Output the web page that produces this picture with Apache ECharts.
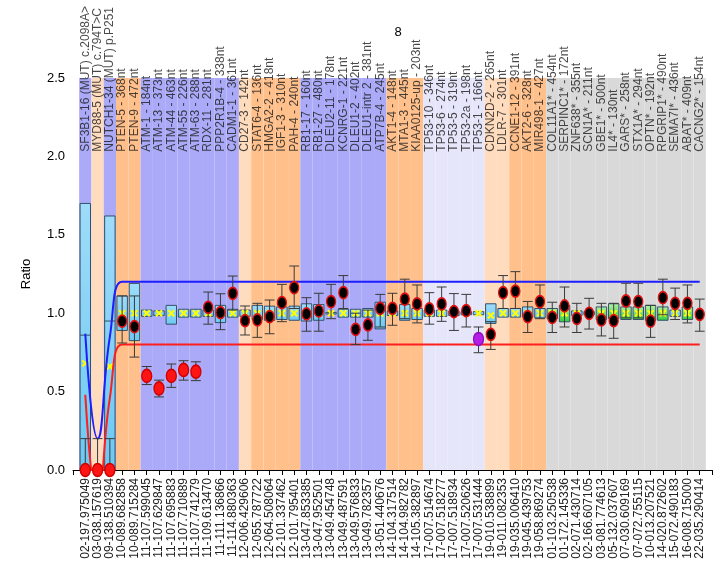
<!DOCTYPE html>
<html><head><meta charset="utf-8">
<script src="https://cdn.jsdelivr.net/npm/echarts@6/dist/echarts.min.js"></script>
<style>html,body{margin:0;padding:0;background:#fff}#c{width:726px;height:568px}</style>
</head><body><div id="c"></div>
<script>
const categories = ['02-197.975049','03-038.157619','09-138.510394','10-089.682858','10-089.715284','11-107.599045','11-107.629847','11-107.695883','11-107.710889','11-107.741279','11-109.613470','11-111.136866','11-114.880363','12-006.429606','12-055.787722','12-064.508064','12-101.337462','12-101.795401','13-047.853385','13-047.952501','13-049.454748','13-049.487591','13-049.576833','13-049.782357','13-051.440676','14-104.317514','14-104.982782','14-105.382897','17-007.514674','17-007.518277','17-007.518934','17-007.520626','17-007.531444','19-010.538899','19-011.082353','19-035.006410','19-045.439753','19-058.869274','01-103.250538','01-172.145336','02-071.430714','02-166.607105','03-081.774613','05-132.037607','07-030.609169','07-072.755115','10-013.207521','14-020.872602','15-072.490183','16-008.715000','22-035.290414'];
const geneLabels = ['SF3B1-16 (MUT) c.2098A>','MYD88-5 (MUT) c.794T>C','NUTCH1-34 (MUT) p.P251','PTEN-5 - 368nt','PTEN-9 - 472nt','ATM-1 - 184nt','ATM-13 - 373nt','ATM-44 - 463nt','ATM-55 - 226nt','ATM-63 - 288nt','RDX-11 - 281nt','PPP2R1B-4 - 338nt','CADM1-1 - 361nt','CD27-3 - 142nt','STAT6-4 - 136nt','HMGA2-2 - 418nt','IGF1-3 - 310nt','PAH-4 - 240nt','RB1-17 - 160nt','RB1-27 - 480nt','DLEU2-11 - 178nt','KCNRG-1 - 221nt','DLEU1-2 - 402nt','DLEU1-intr 2 - 381nt','ATP7B-4 - 245nt','AKT1-4 - 148nt','MTA1-3 - 445nt','KIAA0125-up - 203nt','TP53-10 - 346nt','TP53-6 - 274nt','TP53-5 - 319nt','TP53-2a - 198nt','TP53-1 - 166nt','CDKN2D-2 - 265nt','LDLR-7 - 301nt','CCNE1-12 - 391nt','AKT2-6 - 328nt','MIR498-1 - 427nt','COL11A1* - 454nt','SERPINC1* - 172nt','ZNF638* - 355nt','SCN1A* - 211nt','GBE1* - 500nt','IL4* - 130nt','GARS* - 258nt','STX1A* - 294nt','OPTN* - 192nt','RPGRIP1* - 490nt','SEMA7I* - 436nt','ABAT* - 409nt','CACNG2* - 154nt'];
const bandKind = ['B','P','B','O','O','B','B','B','B','B','B','B','B','P','O','O','O','O','B','B','B','B','B','B','B','O','O','O','L','L','L','L','L','P','P','O','O','O','G','G','G','G','G','G','G','G','G','G','G','G','G'];
const boxLow  = [0,null,0,0.89,0.825,0.98,0.985,0.93,0.975,0.975,0.98,0.94,0.975,0.98,0.96,0.955,0.96,0.955,0.95,0.955,0.995,0.975,0.975,0.975,0.90,0.985,0.955,0.96,0.98,0.98,0.985,0.99,0.99,0.935,0.975,0.975,0.975,0.97,0.965,0.945,0.985,0.99,0.96,0.965,0.96,0.96,0.955,0.955,0.98,0.96,null];
const boxHigh = [1.70,null,1.62,1.11,1.19,1.02,1.015,1.05,1.025,1.025,1.02,1.05,1.025,1.02,1.05,1.045,1.04,1.045,1.06,1.055,1.005,1.025,1.025,1.03,1.07,1.015,1.055,1.03,1.02,1.02,1.015,1.01,1.01,1.06,1.03,1.03,1.04,1.03,1.03,1.05,1.015,1.01,1.04,1.06,1.04,1.04,1.05,1.04,1.02,1.04,null];
const boxMean = [0.68,null,0.66,1.0,1.0,1.0,1.0,1.0,1.0,1.0,1.0,1.0,1.0,1.0,1.0,1.0,1.0,1.0,1.0,1.0,1.0,1.0,1.0,1.0,1.0,1.0,1.0,1.0,1.0,1.0,1.0,1.0,1.0,0.985,1.0,1.0,1.0,1.0,1.0,1.0,1.0,1.0,1.0,1.0,1.0,1.0,1.0,1.0,1.0,1.0,null];
const boxMedian = [0.86,null,0.95,null,null,null,null,null,null,null,null,null,null,null,null,null,null,null,null,null,null,null,null,null,null,null,null,null,null,null,null,null,null,null,null,null,null,null,null,null,null,null,null,null,null,null,null,null,null,null,null];
const boxKind = ['b','b','b','b','b','b','b','b','b','b','b','b','b','b','b','b','b','b','b','b','b','b','b','b','b','b','b','b','b','b','b','b','b','b','b','b','b','b','g','g','b','b','g','g','g','g','g','g','b','g','b'];
const dotValue = [0,0,0,0.95,0.915,0.60,0.52,0.60,0.638,0.627,1.037,1.003,1.127,0.952,0.957,0.978,1.067,1.163,0.995,1.014,1.074,1.131,0.897,0.925,1.031,1.031,1.09,1.059,1.027,1.059,1.01,1.016,0.835,0.865,1.131,1.141,0.978,1.074,0.974,1.046,0.967,0.999,0.957,0.952,1.078,1.074,0.95,1.099,1.063,1.063,0.993];
const dotLow  = [0,0,0,0.81,0.72,0.545,0.466,0.527,0.573,0.57,0.93,0.895,1.02,0.861,0.846,0.869,0.946,1.03,0.885,0.885,0.965,1.03,0.8,0.827,0.912,0.923,0.965,0.938,0.93,0.948,0.89,0.912,0.748,0.769,1.03,1.03,0.877,0.965,0.877,0.912,0.877,0.899,0.855,0.84,0.97,0.97,0.846,0.99,0.96,0.938,0.885];
const dotHigh = [0.2,0.2,0.2,1.11,1.11,0.66,0.573,0.676,0.697,0.69,1.135,1.124,1.237,1.046,1.063,1.084,1.184,1.301,1.099,1.127,1.184,1.24,1.0,1.02,1.12,1.127,1.217,1.18,1.131,1.167,1.125,1.12,0.912,0.946,1.24,1.265,1.075,1.18,1.07,1.167,1.063,1.095,1.063,1.063,1.191,1.191,1.05,1.217,1.16,1.18,1.09];
const dotKind = ['d','d','d','n','n','d','d','d','d','d','n','n','n','n','n','n','n','n','n','n','n','n','n','n','n','n','n','n','n','n','n','n','m','n','n','n','n','n','n','n','n','n','n','n','n','n','n','n','n','n','n'];
const upperLine = [0.87,0.2,0.85,1.2,1.2,1.2,1.2,1.2,1.2,1.2,1.2,1.2,1.2,1.2,1.2,1.2,1.2,1.2,1.2,1.2,1.2,1.2,1.2,1.2,1.2,1.2,1.2,1.2,1.2,1.2,1.2,1.2,1.2,1.2,1.2,1.2,1.2,1.2,1.2,1.2,1.2,1.2,1.2,1.2,1.2,1.2,1.2,1.2,1.2,1.2,1.2];
const lowerLine = [0.48,-0.2,0.46,0.8,0.8,0.8,0.8,0.8,0.8,0.8,0.8,0.8,0.8,0.8,0.8,0.8,0.8,0.8,0.8,0.8,0.8,0.8,0.8,0.8,0.8,0.8,0.8,0.8,0.8,0.8,0.8,0.8,0.8,0.8,0.8,0.8,0.8,0.8,0.8,0.8,0.8,0.8,0.8,0.8,0.8,0.8,0.8,0.8,0.8,0.8,0.8];
const yTicks = [0, 0.5, 1.0, 1.5, 2.0, 2.5];

const bandColors = {B:'#aaaaf8', P:'#ffdcbe', O:'#ffc08c', L:'#e6e6fb', G:'#d9d9d9'};
const labelAnchorY = 2.03;

const chart = echarts.init(document.getElementById('c'));
const idx = categories.map((c,i)=>i);

const bandData = idx.map(i=>[i]);
const boxData = idx.filter(i=>boxLow[i]!==null).map(i=>[i, boxLow[i], boxHigh[i], boxMean[i], boxMedian[i]===null?NaN:boxMedian[i]]);
const errData = idx.map(i=>[i, dotLow[i], dotHigh[i]]);

function dotSeries(kind, fill, border, size){
  return {type:'scatter', z:6, symbol:'circle', symbolSize:size,
    itemStyle:{color:fill, borderColor:border, borderWidth:1.5, opacity:1},
    data: idx.filter(i=>dotKind[i]===kind).map(i=>[i, dotValue[i]]), clip:false, silent:true};
}

const option = {
  animation:false,
  title:{text:'8', left:393, top:21, textAlign:'center', textStyle:{fontSize:13, fontWeight:'normal', color:'#000', fontFamily:'Liberation Sans, Arial, sans-serif'}},
  grid:{left:73, right:14, top:78, bottom:98},
  xAxis:{type:'value', min:-1, max:51, interval:1,
    axisLine:{lineStyle:{color:'#000', width:1}},
    axisTick:{show:true, length:5, lineStyle:{color:'#000'}},
    splitLine:{show:false},
    axisLabel:{rotate:90, fontSize:12, color:'#222', margin:8, fontFamily:'Liberation Sans, Arial, sans-serif',
      formatter:v=> (Number.isInteger(v) && v>=0 && v<categories.length) ? categories[v] : '' ,
      showMinLabel:true, showMaxLabel:true}},
  yAxis:{type:'value', min:yTicks[0], max:yTicks[yTicks.length-1], interval:0.5,
    name:'Ratio', nameLocation:'middle', nameGap:40, nameRotate:90,
    nameTextStyle:{fontSize:13, color:'#000', fontFamily:'Liberation Sans, Arial, sans-serif'},
    axisLine:{show:true, lineStyle:{color:'#000'}},
    axisTick:{show:true, length:5, lineStyle:{color:'#000'}},
    splitLine:{show:false},
    axisLabel:{fontSize:13, color:'#000', fontFamily:'Liberation Sans, Arial, sans-serif', formatter:v=>v.toFixed(1)}},
  series:[
    {type:'custom', z:1, silent:true, data:bandData, clip:false,
      renderItem:(p,api)=>{const i=api.value(0); const a=api.coord([i-0.5,2.5]); const b=api.coord([i+0.5,0]);
        return {type:'rect', shape:{x:a[0], y:a[1], width:b[0]-a[0], height:b[1]-a[1]}, style:{fill:bandColors[bandKind[i]]}};}},
    {type:'scatter', z:2, symbolSize:0, silent:true, clip:false,
      data: idx.map(i=>({value:[i,labelAnchorY], name:geneLabels[i]})),
      label:{show:true, position:[0,0], rotate:90, align:'left', verticalAlign:'middle', formatter:p=>p.name,
        fontSize:12, color:'#1a1a1a', fontFamily:'Liberation Sans, Arial, sans-serif'}},
    {type:'custom', z:3, silent:true, data:boxData,
      renderItem:(p,api)=>{const i=api.value(0); const lo=api.coord([i,api.value(1)]); const hi=api.coord([i,api.value(2)]);
        const w=api.size([0.85,0])[0]; const x=lo[0]-w/2;
        const green = boxKind[i]==='g';
        const fill = green ? new echarts.graphic.LinearGradient(0,0,0,1,[{offset:0,color:'#b8f0a8'},{offset:1,color:'#2ecb3a'}]) : new echarts.graphic.LinearGradient(0,0,0,1,[{offset:0,color:'#9edcfa'},{offset:1,color:'#6cc8f2'}]);
        const ch=[{type:'rect', shape:{x:x, y:hi[1], width:w, height:Math.max(lo[1]-hi[1],1.5)}, style:{fill:fill, stroke:'#34506a', lineWidth:1}}];
        const med=api.value(4);
        if(!isNaN(med)){const m=api.coord([i,med]); ch.push({type:'line', shape:{x1:x, y1:m[1], x2:x+w, y2:m[1]}, style:{stroke:'#34506a', lineWidth:1}});}
        const mn=api.coord([i,api.value(3)]); const s=3;
        ch.push({type:'line', shape:{x1:mn[0]-s,y1:mn[1]-s,x2:mn[0]+s,y2:mn[1]+s}, style:{stroke:'#ffff00', lineWidth:2}});
        ch.push({type:'line', shape:{x1:mn[0]-s,y1:mn[1]+s,x2:mn[0]+s,y2:mn[1]-s}, style:{stroke:'#ffff00', lineWidth:2}});
        return {type:'group', children:ch};}},
    {type:'line', z:4, data:idx.map(i=>[i,upperLine[i]]), smooth:true, symbol:'none', clip:true, silent:true,
      lineStyle:{color:'#1e1eff', width:2}},
    {type:'line', z:4, data:idx.map(i=>[i,lowerLine[i]]), smooth:true, symbol:'none', clip:true, silent:true,
      lineStyle:{color:'#ff1e1e', width:2}},
    {type:'custom', z:5, silent:true, data:errData, clip:false,
      renderItem:(p,api)=>{const i=api.value(0); const lo=api.coord([i,api.value(1)]); const hi=api.coord([i,api.value(2)]);
        const c=api.size([0.8,0])[0]/2;
        return {type:'group', children:[
          {type:'line', shape:{x1:lo[0],y1:lo[1],x2:hi[0],y2:hi[1]}, style:{stroke:'#3a3a3a', lineWidth:1}},
          {type:'line', shape:{x1:lo[0]-c,y1:lo[1],x2:lo[0]+c,y2:lo[1]}, style:{stroke:'#3a3a3a', lineWidth:1}},
          {type:'line', shape:{x1:hi[0]-c,y1:hi[1],x2:hi[0]+c,y2:hi[1]}, style:{stroke:'#3a3a3a', lineWidth:1}}]};}},
    dotSeries('n', '#000000', '#e01010', [9,12]),
    dotSeries('d', '#ff1414', '#d00000', [10,13]),
    dotSeries('m', '#b41ee6', '#9010c0', [10,13])
  ]
};
chart.setOption(option);
</script></body></html>
